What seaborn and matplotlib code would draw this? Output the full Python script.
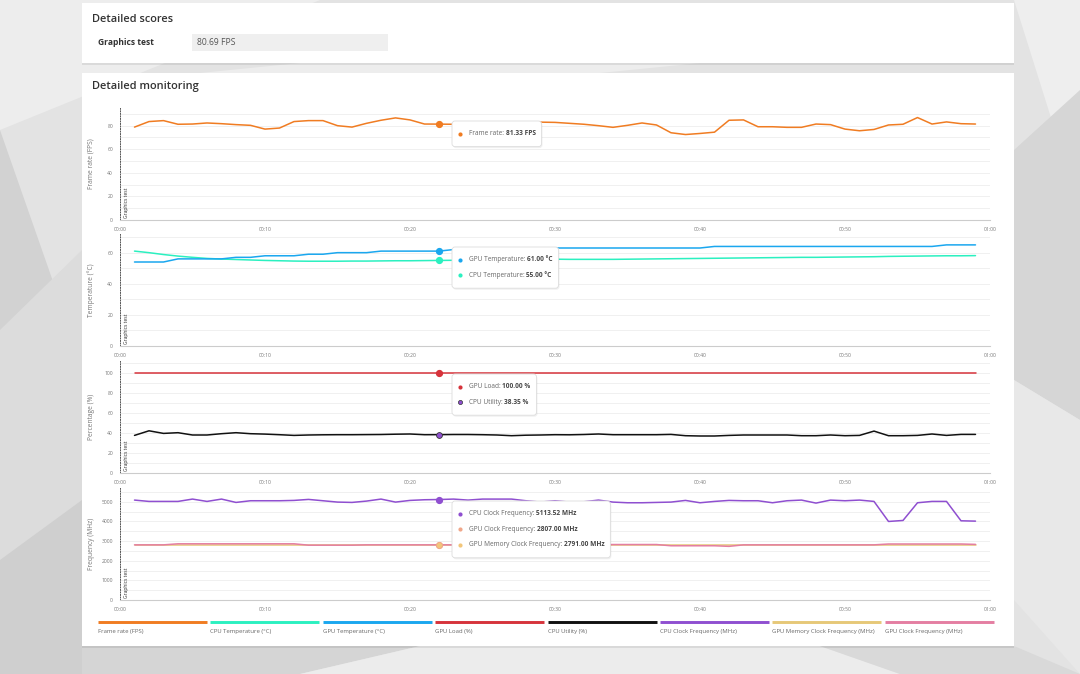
import matplotlib
matplotlib.use("Agg")
import matplotlib.pyplot as plt
import seaborn as sns
import pandas as pd
from matplotlib.patches import Rectangle, FancyBboxPatch, Polygon
from matplotlib.lines import Line2D

sns.set_style("white")
plt.rcParams["font.family"] = ["Open Sans", "DejaVu Sans"]

# ---- data (one sample per second, 00:01 .. 00:59) ----
seconds = list(range(1, 60))

frame_rate = [78.8, 83.5, 84.3, 81.2, 81.4, 82.3, 81.7, 80.9, 80.3, 77.1,
              78.0, 83.5, 84.3, 84.3, 80.0, 78.8, 82.0, 84.6, 86.6, 84.9,
              81.4, 81.33, 81.2, 81.5, 81.8, 82.3, 82.7, 83.0, 83.0, 82.8,
              82.0, 81.2, 80.0, 78.6, 80.3, 82.3, 80.6, 74.0, 72.5, 73.4,
              74.5, 84.6, 84.9, 79.1, 79.1, 78.6, 78.6, 81.4, 80.9, 77.1,
              75.7, 76.8, 80.6, 81.2, 86.9, 81.4, 83.2, 81.7, 81.4]

gpu_temp = [54, 54, 54, 56, 56, 56, 56, 57, 57, 58,
            58, 58, 59, 59, 60, 60, 60, 61, 61, 61,
            61, 61, 62, 62, 63, 63, 63, 63, 63, 63,
            63, 63, 63, 63, 63, 63, 63, 63, 63, 63,
            64, 64, 64, 64, 64, 64, 64, 64, 64, 64,
            64, 64, 64, 64, 64, 64, 65, 65, 65]

cpu_temp = [61.0, 60.0, 58.8, 57.8, 57.0, 56.3, 55.9, 55.6, 55.3, 55.0,
            54.8, 54.6, 54.5, 54.5, 54.5, 54.6, 54.6, 54.7, 54.8, 54.8,
            54.9, 55.0, 55.1, 55.2, 55.3, 55.4, 55.5, 55.6, 55.7, 55.8,
            55.7, 55.7, 55.7, 55.7, 55.8, 55.9, 56.0, 56.1, 56.2, 56.3,
            56.4, 56.5, 56.6, 56.7, 56.8, 56.9, 57.0, 57.0, 57.1, 57.2,
            57.3, 57.4, 57.6, 57.7, 57.8, 57.9, 58.0, 58.0, 58.1]

gpu_load = [100.0] * 59

cpu_util = [37.6, 42.2, 39.6, 40.3, 38.0, 38.0, 39.3, 40.3, 39.3, 38.9,
            38.3, 37.6, 38.0, 38.2, 38.3, 38.3, 38.4, 38.5, 38.8, 39.0,
            38.3, 38.35, 38.5, 38.5, 38.3, 38.0, 37.3, 37.8, 38.0, 38.3,
            38.2, 38.5, 39.0, 38.3, 38.3, 38.3, 38.3, 38.6, 37.3, 37.0,
            37.0, 37.6, 38.0, 38.0, 38.0, 38.0, 37.3, 37.3, 38.0, 37.3,
            37.6, 41.9, 37.3, 37.3, 37.6, 39.0, 37.6, 38.6, 38.6]

cpu_clock = [5085, 5017, 5017, 5017, 5136, 5017, 5136, 4966, 5051, 5051,
             5051, 5068, 5119, 5051, 4983, 4966, 5034, 5136, 4983, 5068,
             5102, 5113.52, 5136, 5085, 5136, 5136, 5136, 5051, 4983, 5051,
             4983, 5000, 5085, 4983, 4949, 4949, 4966, 4983, 5068, 4949,
             5017, 5068, 5051, 5051, 4949, 5051, 5085, 4932, 5085, 5051,
             5085, 5017, 3997, 4048, 4949, 5017, 5017, 4031, 4014]

gpu_clock = [2806, 2806, 2806, 2860, 2860, 2860, 2860, 2860, 2860, 2860,
             2860, 2860, 2790, 2790, 2790, 2790, 2807, 2807, 2807, 2807,
             2807, 2807, 2807, 2807, 2807, 2807, 2807, 2807, 2807, 2807,
             2807, 2807, 2807, 2823, 2823, 2823, 2823, 2760, 2760, 2760,
             2760, 2730, 2806, 2806, 2806, 2806, 2806, 2806, 2806, 2806,
             2806, 2806, 2850, 2850, 2850, 2850, 2850, 2850, 2830]

gpu_mem_clock = [2791] * 59

hover_t = 22
score_name = "Graphics test"
score_value = "80.69 FPS"

legend_names = ["Frame rate (FPS)", "CPU Temperature (°C)", "GPU Temperature (°C)",
                "GPU Load (%)", "CPU Utility (%)", "CPU Clock Frequency (MHz)",
                "GPU Memory Clock Frequency (MHz)", "GPU Clock Frequency (MHz)"]
legend_colors = ["#f07c22", "#2bf0c0", "#1aa7ef", "#d6333b", "#111111",
                 "#8f4fd0", "#e6c878", "#e47ea2"]

W, H = 1080, 674


def fx(px):
    return px / W


def fy(py):
    return 1 - py / H


fig = plt.figure(figsize=(W / 100, H / 100), dpi=100, facecolor="#e3e3e3")
renderer = fig.canvas.get_renderer()

# low-poly background
bg_polys = [
    ([(0, 0), (320, 0), (0, 130)], "#ededed"),
    ([(0, 130), (70, 330), (0, 430)], "#d2d2d2"),
    ([(0, 330), (82, 250), (82, 560), (0, 600)], "#dcdcdc"),
    ([(0, 560), (82, 500), (82, 674), (0, 674)], "#cfcfcf"),
    ([(1014, 0), (1080, 0), (1080, 210)], "#eeeeee"),
    ([(1014, 150), (1080, 90), (1080, 420), (1014, 380)], "#d6d6d6"),
    ([(1014, 380), (1080, 420), (1080, 674), (1014, 600)], "#e8e8e8"),
    ([(82, 646), (420, 646), (300, 674), (82, 674)], "#d5d5d5"),
    ([(420, 646), (820, 646), (900, 674), (300, 674)], "#ececec"),
    ([(820, 646), (1014, 646), (1080, 674), (900, 674)], "#d9d9d9"),
    ([(300, 63), (700, 63), (600, 73), (200, 73)], "#ededed"),
]
for pts, col in bg_polys:
    fig.add_artist(Polygon([(fx(a), fy(b)) for a, b in pts], closed=True,
                           transform=fig.transFigure, facecolor=col,
                           edgecolor="none", zorder=0))

# cards
for top, bot in [(3, 63), (73, 646)]:
    fig.add_artist(Rectangle((fx(82), fy(bot + 2)), fx(932), (bot - top) / H,
                             transform=fig.transFigure, facecolor="#000000",
                             alpha=0.08, edgecolor="none", zorder=1))
    fig.add_artist(Rectangle((fx(82), fy(bot)), fx(932), (bot - top) / H,
                             transform=fig.transFigure, facecolor="white",
                             edgecolor="none", zorder=1))

fig.text(fx(92), fy(19), "Detailed scores", fontsize=7.9, fontweight=600,
         color="#333333", va="center", ha="left", zorder=3)
fig.text(fx(98), fy(42.5), score_name, fontsize=6.1, fontweight="bold",
         color="#333333", va="center", ha="left", zorder=3)
fig.add_artist(Rectangle((fx(192), fy(51)), fx(196), 17 / H,
                         transform=fig.transFigure, facecolor="#efefef",
                         edgecolor="none", zorder=2))
fig.text(fx(197), fy(42.5), score_value, fontsize=6.2, color="#555555",
         va="center", ha="left", zorder=3)
fig.text(fx(92), fy(87), "Detailed monitoring", fontsize=7.9, fontweight=600,
         color="#333333", va="center", ha="left", zorder=3)


def tooltip(ax, rows):
    pos = ax.get_position()
    axw, axh = pos.width * W, pos.height * H
    left = hover_t / 60 * axw + 13
    top = axh - 13
    h = 10 + 15.6 * len(rows)
    maxw = 0
    for i, (col, edge, label, value) in enumerate(rows):
        yc = top - 12.5 - 15.6 * i
        ax.plot((left + 8.3) / axw, yc / axh, "o", ms=3.0, color=col,
                mec=edge, mew=0.5, transform=ax.transAxes, clip_on=False,
                zorder=12)
        t1 = ax.text((left + 16.7) / axw, yc / axh, label + ":",
                     transform=ax.transAxes, fontsize=4.7, color="#666666",
                     va="center", ha="left", zorder=12)
        w1 = t1.get_window_extent(renderer).width + 1.8
        t2 = ax.text((left + 16.7 + w1) / axw, yc / axh, value,
                     transform=ax.transAxes, fontsize=4.7, color="#444444",
                     fontweight="bold", va="center", ha="left", zorder=12)
        w2 = t2.get_window_extent(renderer).width
        maxw = max(maxw, 16.7 + w1 + w2 + 6)
    ax.add_patch(FancyBboxPatch(((left + 1) / axw, (top - h - 1.5) / axh),
                                maxw / axw, h / axh,
                                boxstyle="round,pad=0,rounding_size=%f" % (3 / axw),
                                mutation_aspect=axw / axh,
                                transform=ax.transAxes, facecolor="#000000",
                                alpha=0.06, edgecolor="none", clip_on=False,
                                zorder=10))
    ax.add_patch(FancyBboxPatch((left / axw, (top - h) / axh),
                                maxw / axw, h / axh,
                                boxstyle="round,pad=0,rounding_size=%f" % (3 / axw),
                                mutation_aspect=axw / axh,
                                transform=ax.transAxes, facecolor="white",
                                edgecolor="#dddddd", lw=0.6, clip_on=False,
                                zorder=11))


def make_panel(top, bot, ymax, major, minor, ylabel):
    ax = fig.add_axes([fx(120), fy(bot), fx(870), (bot - top) / H])
    ax.set_zorder(5)
    ax.set_facecolor("none")
    ax.set_xlim(0, 60)
    ax.set_ylim(0, ymax)
    ax.set_xticks(range(0, 61, 10))
    ax.set_xticklabels(["%02d:%02d" % (s // 60, s % 60) for s in range(0, 61, 10)])
    ax.set_yticks(range(0, int(ymax) + 1, major))
    ax.set_yticks(range(0, int(ymax) + 1, minor), minor=True)
    ax.yaxis.grid(True, which="both", color="#eeeeee", lw=0.6)
    ax.xaxis.grid(False)
    ax.set_axisbelow(True)
    for s in ["top", "right"]:
        ax.spines[s].set_visible(False)
    ax.spines["left"].set_linestyle((0, (1, 1.6)))
    ax.spines["left"].set_color("#555555")
    ax.spines["left"].set_linewidth(0.7)
    ax.spines["bottom"].set_color("#cccccc")
    ax.spines["bottom"].set_linewidth(0.8)
    ax.tick_params(axis="both", which="major", labelsize=3.6,
                   labelcolor="#777777", length=3, width=0.6, pad=2)
    ax.tick_params(axis="x", color="#cccccc")
    ax.tick_params(axis="y", color="#555555")
    ax.tick_params(axis="y", which="minor", length=0)
    ax.set_ylabel(ylabel, fontsize=4.8, color="#777777")
    ax.yaxis.set_label_coords(-25 / 870, 0.5)
    ax.text(0.0045, 0.015, "Graphics test", rotation=90, transform=ax.transAxes,
            fontsize=3.6, color="#333333", va="bottom", ha="left")
    return ax


hi = seconds.index(hover_t)

# Frame rate
ax1 = make_panel(108, 220, 95, 20, 10, "Frame rate (FPS)")
sns.lineplot(x=seconds, y=frame_rate, color="#f07c22", lw=1.1, ax=ax1)
ax1.plot(hover_t, frame_rate[hi], "o", ms=4.2, color="#f07c22", zorder=5)
tooltip(ax1, [("#f07c22", "none", "Frame rate", "81.33 FPS")])

# Temperature
ax2 = make_panel(234, 346, 72, 20, 10, "Temperature (°C)")
sns.lineplot(x=seconds, y=cpu_temp, color="#2bf0c0", lw=1.1, ax=ax2)
sns.lineplot(x=seconds, y=gpu_temp, color="#1aa7ef", lw=1.1, ax=ax2)
ax2.plot(hover_t, gpu_temp[hi], "o", ms=4.2, color="#1aa7ef", zorder=5)
ax2.plot(hover_t, cpu_temp[hi], "o", ms=4.2, color="#2bf0c0", zorder=5)
tooltip(ax2, [("#1aa7ef", "none", "GPU Temperature", "61.00 °C"),
              ("#2bf0c0", "none", "CPU Temperature", "55.00 °C")])

# Percentage
ax3 = make_panel(361, 473, 112, 20, 10, "Percentage (%)")
sns.lineplot(x=seconds, y=gpu_load, color="#d6333b", lw=1.1, ax=ax3)
sns.lineplot(x=seconds, y=cpu_util, color="#111111", lw=1.1, ax=ax3)
ax3.plot(hover_t, gpu_load[hi], "o", ms=4.2, color="#d6333b", zorder=5)
ax3.plot(hover_t, cpu_util[hi], "o", ms=4.2, color="#8f4fd0", mec="#333333",
         mew=0.6, zorder=5)
tooltip(ax3, [("#d6333b", "none", "GPU Load", "100.00 %"),
              ("#8f4fd0", "#333333", "CPU Utility", "38.35 %")])

# Frequency
ax4 = make_panel(488, 600, 5700, 1000, 500, "Frequency (MHz)")
sns.lineplot(x=seconds, y=gpu_mem_clock, color="#e6c878", lw=1.1, ax=ax4)
sns.lineplot(x=seconds, y=gpu_clock, color="#e47ea2", lw=1.1, ax=ax4)
sns.lineplot(x=seconds, y=cpu_clock, color="#8f4fd0", lw=1.1, ax=ax4)
ax4.plot(hover_t, cpu_clock[hi], "o", ms=4.2, color="#8f4fd0", zorder=5)
ax4.plot(hover_t, gpu_clock[hi], "o", ms=4.2, color="#f0a78a", zorder=5)
ax4.plot(hover_t, gpu_mem_clock[hi], "o", ms=4.2, color="#f2c67a",
         mec="#f0a78a", mew=0.5, zorder=6)
tooltip(ax4, [("#8f4fd0", "none", "CPU Clock Frequency", "5113.52 MHz"),
              ("#f0a78a", "none", "GPU Clock Frequency", "2807.00 MHz"),
              ("#f2c67a", "none", "GPU Memory Clock Frequency", "2791.00 MHz")])

# legend strip
for i, (name, col) in enumerate(zip(legend_names, legend_colors)):
    x0 = 98 + 112.4 * i
    fig.add_artist(Line2D([fx(x0), fx(x0 + 109)], [fy(622.3), fy(622.3)],
                          transform=fig.transFigure, color=col, lw=2.1,
                          solid_capstyle="butt", zorder=3))
    fig.text(fx(x0), fy(631), name, fontsize=4.3, color="#666666",
             va="center", ha="left", zorder=3)

fig.savefig("out.png", dpi=100, facecolor=fig.get_facecolor())
